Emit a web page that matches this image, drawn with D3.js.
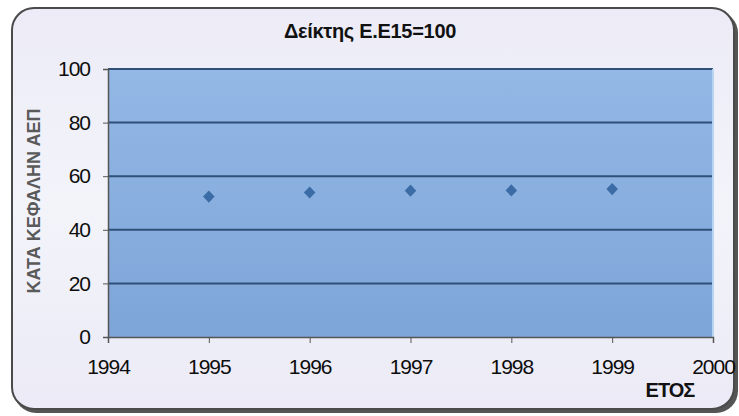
<!DOCTYPE html>
<html>
<head>
<meta charset="utf-8">
<script src="https://d3js.org/d3.v7.min.js"></script>
<style>
  body { margin: 0; background: #ffffff; }
  svg { display: block; font-family: "Liberation Sans", Arial, sans-serif; }
</style>
</head>
<body>
<svg></svg>
<script>
const years = [1995, 1996, 1997, 1998, 1999];
const values = [52.4, 53.9, 54.6, 54.7, 55.2];
const xTicks = [1994, 1995, 1996, 1997, 1998, 1999, 2000];
const yTicks = [0, 20, 40, 60, 80, 100];
const title = 'Δείκτης Ε.Ε15=100';
const yTitle = 'ΚΑΤΑ ΚΕΦΑΛΗΝ ΑΕΠ';
const xTitle = 'ΕΤΟΣ';

const width = 739, height = 416;
const plot = { left: 108, right: 713, top: 69, bottom: 337 };

const svg = d3.select('svg')
    .attr('width', width)
    .attr('height', height);

const defs = svg.append('defs');
const bgGrad = defs.append('linearGradient')
    .attr('id', 'bg').attr('x1', 0).attr('y1', 0).attr('x2', 0).attr('y2', 1);
bgGrad.append('stop').attr('offset', '0%').attr('stop-color', '#ecebf7');
bgGrad.append('stop').attr('offset', '50%').attr('stop-color', '#f3f4fa');
bgGrad.append('stop').attr('offset', '100%').attr('stop-color', '#ebeaf6');

const plotGrad = defs.append('linearGradient')
    .attr('id', 'plotbg').attr('x1', 0).attr('y1', 0).attr('x2', 0).attr('y2', 1);
plotGrad.append('stop').attr('offset', '0%').attr('stop-color', '#93b8e6');
plotGrad.append('stop').attr('offset', '100%').attr('stop-color', '#7ea5d8');

// frame shadow + frame
svg.append('rect')
    .attr('x', 14).attr('y', 11)
    .attr('width', 724).attr('height', 402)
    .attr('rx', 22)
    .attr('fill', '#555');
svg.append('rect')
    .attr('x', 12).attr('y', 8)
    .attr('width', 722).attr('height', 401)
    .attr('rx', 22)
    .attr('fill', 'url(#bg)')
    .attr('stroke', '#4a4a4a')
    .attr('stroke-width', 2);

const x = d3.scaleLinear().domain([1994, 2000]).range([plot.left, plot.right]);
const y = d3.scaleLinear().domain([0, 100]).range([plot.bottom, plot.top]);

svg.append('rect')
    .attr('x', plot.left).attr('y', plot.top)
    .attr('width', plot.right - plot.left).attr('height', plot.bottom - plot.top)
    .attr('fill', 'url(#plotbg)');

// grid lines
svg.append('g')
    .attr('class', 'grid')
    .selectAll('line')
    .data(yTicks.filter(d => d > 0))
    .enter()
    .append('line')
    .attr('x1', plot.left).attr('x2', plot.right)
    .attr('y1', d => y(d)).attr('y2', d => y(d))
    .attr('stroke', '#2e4f78')
    .attr('stroke-width', 2);

svg.append('line')
    .attr('x1', plot.right).attr('x2', plot.right)
    .attr('y1', plot.top).attr('y2', plot.bottom)
    .attr('stroke', '#b8d4f0').attr('stroke-width', 2);

// axes
const yAxis = svg.append('g')
    .attr('transform', `translate(${plot.left},0)`)
    .call(d3.axisLeft(y).tickValues(yTicks).tickSize(5).tickPadding(13));
const xAxis = svg.append('g')
    .attr('transform', `translate(0,${plot.bottom})`)
    .call(d3.axisBottom(x).tickValues(xTicks).tickFormat(d3.format('d')).tickSize(6).tickPadding(16));

[yAxis, xAxis].forEach(a => {
    a.select('.domain').attr('stroke', '#555').attr('stroke-width', 1.5);
    a.selectAll('.tick line').attr('stroke', '#555');
    a.selectAll('.tick text')
        .attr('fill', '#0d0d0d')
        .attr('font-size', '21px')
        .attr('letter-spacing', '-1px');
});

// points
svg.append('g')
    .attr('class', 'points')
    .selectAll('path')
    .data(years.map((yr, i) => ({ yr, v: values[i] })))
    .enter()
    .append('path')
    .attr('d', d3.symbol(d3.symbolDiamond2, 85))
    .attr('transform', d => `translate(${x(d.yr)},${y(d.v)}) scale(1,1.05)`)
    .attr('fill', '#3b6ca5');

// titles
svg.append('text')
    .attr('x', 370).attr('y', 38)
    .attr('text-anchor', 'middle')
    .attr('font-size', '20px')
    .attr('font-weight', 'bold')
    .attr('fill', '#111')
    .attr('letter-spacing', '-0.3px')
    .text(title);

svg.append('text')
    .attr('transform', `translate(40,${(plot.top + plot.bottom) / 2 - 2}) rotate(-90)`)
    .attr('text-anchor', 'middle')
    .attr('font-size', '18px')
    .attr('font-weight', 'bold')
    .attr('fill', '#5a5a5a')
    .text(yTitle);

svg.append('text')
    .attr('x', 670).attr('y', 397)
    .attr('text-anchor', 'middle')
    .attr('font-size', '20px')
    .attr('font-weight', 'bold')
    .attr('fill', '#111')
    .attr('letter-spacing', '-1px')
    .text(xTitle);
</script>
</body>
</html>
